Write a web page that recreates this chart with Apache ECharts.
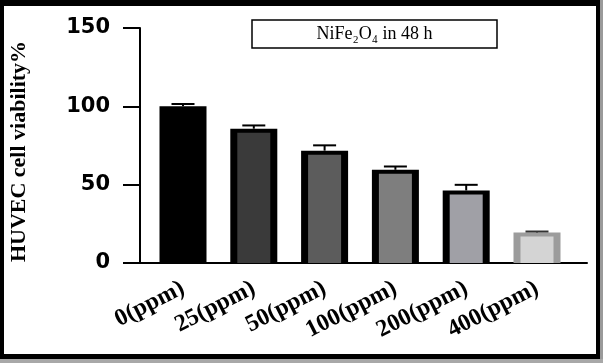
<!DOCTYPE html>
<html>
<head>
<meta charset="utf-8">
<script src="https://cdn.jsdelivr.net/npm/echarts@6/dist/echarts.min.js"></script>
<style>
html,body{margin:0;padding:0;background:#fff;}
#chart{width:603px;height:363px;}
</style>
</head>
<body>
<div id="chart"></div>
<script>
// ---- data ----
const categories = ['0(ppm)', '25(ppm)', '50(ppm)', '100(ppm)', '200(ppm)', '400(ppm)'];
const viability = [100, 85.7, 71.7, 59.5, 46.3, 19.5];
const errors = [1.5, 2.1, 3.4, 2.1, 3.6, 0.6];
const yTicks = [0, 50, 100, 150];
const titleText = 'NiFe\u2082O\u2084 in 48 h';
const yName = 'HUVEC cell viability%';

// ---- styles ----
const fillColors = ['#000000', '#3a3a3a', '#5c5c5c', '#7e7e7e', '#a0a0a6', '#d4d4d4'];
const edgeColors = ['#000000', '#000000', '#000000', '#000000', '#000000', '#9c9c9c'];

const chart = echarts.init(document.getElementById('chart'));

const seriesData = viability.map((v, i) => [i, v, errors[i], i]);

const option = {
  backgroundColor: '#ffffff',
  animation: false,
  grid: [
    { left: 135, right: 16, top: 28, bottom: 100 },
    { left: 147.6, right: 30.6, top: 28, bottom: 100 }
  ],
  xAxis: [
    {
      gridIndex: 0, type: 'category', data: categories,
      axisLine: { show: true, lineStyle: { color: '#000', width: 2 } },
      axisTick: { show: false }, axisLabel: { show: false }, splitLine: { show: false }
    },
    {
      gridIndex: 1, type: 'category', data: categories,
      axisLine: { show: false }, axisTick: { show: false },
      axisLabel: {
        show: true, rotate: 27, margin: 24, interval: 0,
        color: '#000', fontFamily: 'Liberation Serif', fontWeight: 'bold', fontSize: 24
      }
    }
  ],
  yAxis: [
    {
      gridIndex: 0, type: 'value', min: yTicks[0], max: yTicks[yTicks.length - 1], interval: 50,
      axisLine: { show: true, lineStyle: { color: '#000', width: 2 } },
      axisTick: { show: true, inside: false, length: 17, lineStyle: { color: '#000', width: 2 } },
      axisLabel: {
        show: true, margin: 30, color: '#000',
        fontFamily: 'DejaVu Sans', fontWeight: 'bold', fontSize: 21
      },
      splitLine: { show: false },
      name: yName, nameLocation: 'middle', nameRotate: 90, nameGap: 110,
      nameTextStyle: { color: '#000', fontFamily: 'Liberation Serif', fontWeight: 'bold', fontSize: 22,
        padding: [0, 12, 0, 0] }
    },
    {
      gridIndex: 1, type: 'value', min: yTicks[0], max: yTicks[yTicks.length - 1], show: false
    }
  ],
  series: [
    {
      type: 'custom',
      xAxisIndex: 1, yAxisIndex: 1,
      data: seriesData,
      renderItem: function (params, api) {
        const x = api.value(0), v = api.value(1), sd = api.value(2), idx = api.value(3);
        const top = api.coord([x, v]);
        const base = api.coord([x, 0]);
        const cap = api.coord([x, v + sd]);
        const w = 47, side = 7, topB = 4;
        const h = base[1] - top[1];
        return {
          type: 'group',
          children: [
            { type: 'rect', shape: { x: top[0] - w / 2, y: top[1], width: w, height: h },
              style: { fill: edgeColors[idx] } },
            { type: 'rect', shape: { x: top[0] - w / 2 + side, y: top[1] + topB, width: w - 2 * side, height: h - topB },
              style: { fill: fillColors[idx] } },
            { type: 'line', shape: { x1: top[0], y1: top[1], x2: top[0], y2: cap[1] },
              style: { stroke: idx === 5 ? '#333' : '#000', lineWidth: 2 } },
            { type: 'line', shape: { x1: top[0] - 11.5, y1: cap[1], x2: top[0] + 11.5, y2: cap[1] },
              style: { stroke: idx === 5 ? '#333' : '#000', lineWidth: 2 } }
          ]
        };
      }
    }
  ],
  graphic: [
    { type: 'rect', shape: { x: 600, y: 0, width: 3, height: 363 }, style: { fill: '#9a9a9a' }, silent: true },
    { type: 'rect', shape: { x: 0, y: 359, width: 603, height: 4 }, style: { fill: '#a8a8a8' }, silent: true },
    { type: 'rect', shape: { x: 0, y: 0, width: 600, height: 6 }, style: { fill: '#000' }, silent: true },
    { type: 'rect', shape: { x: 0, y: 0, width: 4, height: 359 }, style: { fill: '#000' }, silent: true },
    { type: 'rect', shape: { x: 596, y: 0, width: 4, height: 359 }, style: { fill: '#000' }, silent: true },
    { type: 'rect', shape: { x: 0, y: 354, width: 600, height: 5 }, style: { fill: '#000' }, silent: true },
    { type: 'rect', shape: { x: 252, y: 20, width: 245, height: 28 },
      style: { fill: '#fff', stroke: '#000', lineWidth: 1.5 }, silent: true },
    { type: 'text', x: 374.5, y: 34,
      style: { text: titleText, fill: '#000', font: '18px "Liberation Serif"', textAlign: 'center', textVerticalAlign: 'middle' },
      silent: true }
  ]
};

chart.setOption(option);
</script>
</body>
</html>
